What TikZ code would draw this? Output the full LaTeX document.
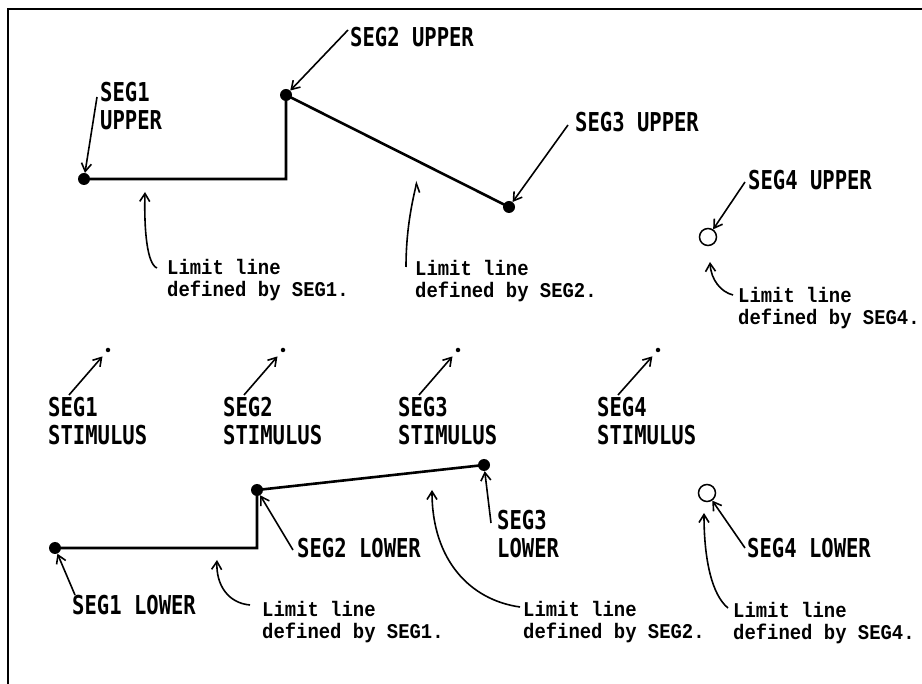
\documentclass[tikz,border=0pt]{standalone}
\usepackage{fontspec}
\usetikzlibrary{arrows.meta}
\newfontfamily\capsfont{DejaVu Sans Mono}[FakeStretch=0.79]
\newfontfamily\notefont{Liberation Mono}[FakeStretch=0.9]

\begin{document}
\begin{tikzpicture}[x=1pt, y=-1pt,
    seg/.style={line width=2.6pt},
    lead/.style={-{Straight Barb[length=8pt,width=10pt]}, line width=1.6pt},
    dot/.style={circle, fill, inner sep=0pt, minimum size=12pt},
    ring/.style={circle, draw, line width=1.5pt, inner sep=0pt, minimum size=17pt},
    stim/.style={circle, fill, inner sep=0pt, minimum size=4.5pt},
    tag/.style={font=\capsfont\bfseries\fontsize{26}{28}\selectfont, inner sep=0pt, anchor=base west, align=left},
    note/.style={font=\notefont\bfseries\fontsize{21}{22}\selectfont, inner sep=0pt, anchor=base west, align=left}]
    \useasboundingbox (0,0) rectangle (922,684);
    \draw[line width=2pt] (922,9) -- (8,9) -- (8,684);

    % upper limit line
    \node[dot] (u1) at (84,179) {};
    \node[dot] (u2) at (286,95) {};
    \node[dot] (u3) at (509,207) {};
    \node[ring] (u4) at (708,237) {};
    \draw[seg] (u1.center) -- (u1 -| u2) -- (u2.center) -- (u3.center);

    \node[tag] (u1t) at (100,130) {SEG1\\UPPER};
    \node[tag] (u2t) at (350,47) {SEG2 UPPER};
    \node[tag] (u3t) at (575,132) {SEG3 UPPER};
    \node[tag] (u4t) at (748,190) {SEG4 UPPER};
    \coordinate (u1a) at (97,97);
    \coordinate (u2a) at (348,30);
    \coordinate (u3a) at (568,125);
    \coordinate (u4a) at (745,182);
    \draw[lead] (u1a) -- (u1);
    \draw[lead] (u2a) -- (u2);
    \draw[lead] (u3a) -- (u3);
    \draw[lead] (u4a) -- (u4);

    \node[note] (n1) at (167,297) {Limit line\\defined by SEG1.};
    \node[note] (n2) at (415,298) {Limit line\\defined by SEG2.};
    \node[note] (n3) at (738,325) {Limit line\\defined by SEG4.};
    \coordinate (n1a) at (157,268);
    \coordinate (n2a) at (406,267);
    \coordinate (n3a) at (733,295);
    \draw[lead] (n1a) .. controls (147,264) and (144,230) .. (145,192);
    \draw[-{Straight Barb[right,length=8pt,width=10pt]}, line width=1.6pt]
        (n2a) .. controls (406,225) and (414,195) .. (417,181);
    \draw[lead] (n3a) .. controls (721,292) and (711,280) .. (710,262);

    % stimulus points
    \foreach \i/\x/\tx in {1/108/48, 2/283/223, 3/458/398, 4/658/597} {
        \node[stim] (s\i) at (\x,350) {};
        \node[tag] (s\i t) at (\tx,445) {SEG\i\\STIMULUS};
        \coordinate (s\i a) at (\tx+21,395);
        \draw[lead, shorten >=6pt] (s\i a) -- (s\i);
    }

    % lower limit line
    \node[dot] (l1) at (55,548) {};
    \node[dot] (l2) at (257,490) {};
    \node[dot] (l3) at (484,465) {};
    \node[ring] (l4) at (707,493) {};
    \draw[seg] (l1.center) -- (l1 -| l2) -- (l2.center) -- (l3.center);

    \node[tag] (l1t) at (72,615) {SEG1 LOWER};
    \node[tag] (l2t) at (297,558) {SEG2 LOWER};
    \node[tag] (l3t) at (497,558) {SEG3\\LOWER};
    \node[tag] (l4t) at (747,558) {SEG4 LOWER};
    \coordinate (l1a) at (75,595);
    \coordinate (l2a) at (293,550);
    \coordinate (l3a) at (491,523);
    \coordinate (l4a) at (745,548);
    \draw[lead] (l1a) -- (l1);
    \draw[lead] (l2a) -- (l2);
    \draw[lead] (l3a) -- (l3);
    \draw[lead] (l4a) -- (l4);

    \node[note] (m1) at (262,638) {Limit line\\defined by SEG1.};
    \node[note] (m2) at (523,638) {Limit line\\defined by SEG2.};
    \node[note] (m3) at (733,640) {Limit line\\defined by SEG4.};
    \coordinate (m1a) at (250,605);
    \coordinate (m2a) at (520,607);
    \coordinate (m3a) at (728,608);
    \draw[lead] (m1a) .. controls (228,603) and (216,585) .. (217,560);
    \draw[lead] (m2a) .. controls (470,600) and (432,560) .. (432,490);
    \draw[lead] (m3a) .. controls (712,595) and (704,560) .. (704,513);
\end{tikzpicture}
\end{document}
